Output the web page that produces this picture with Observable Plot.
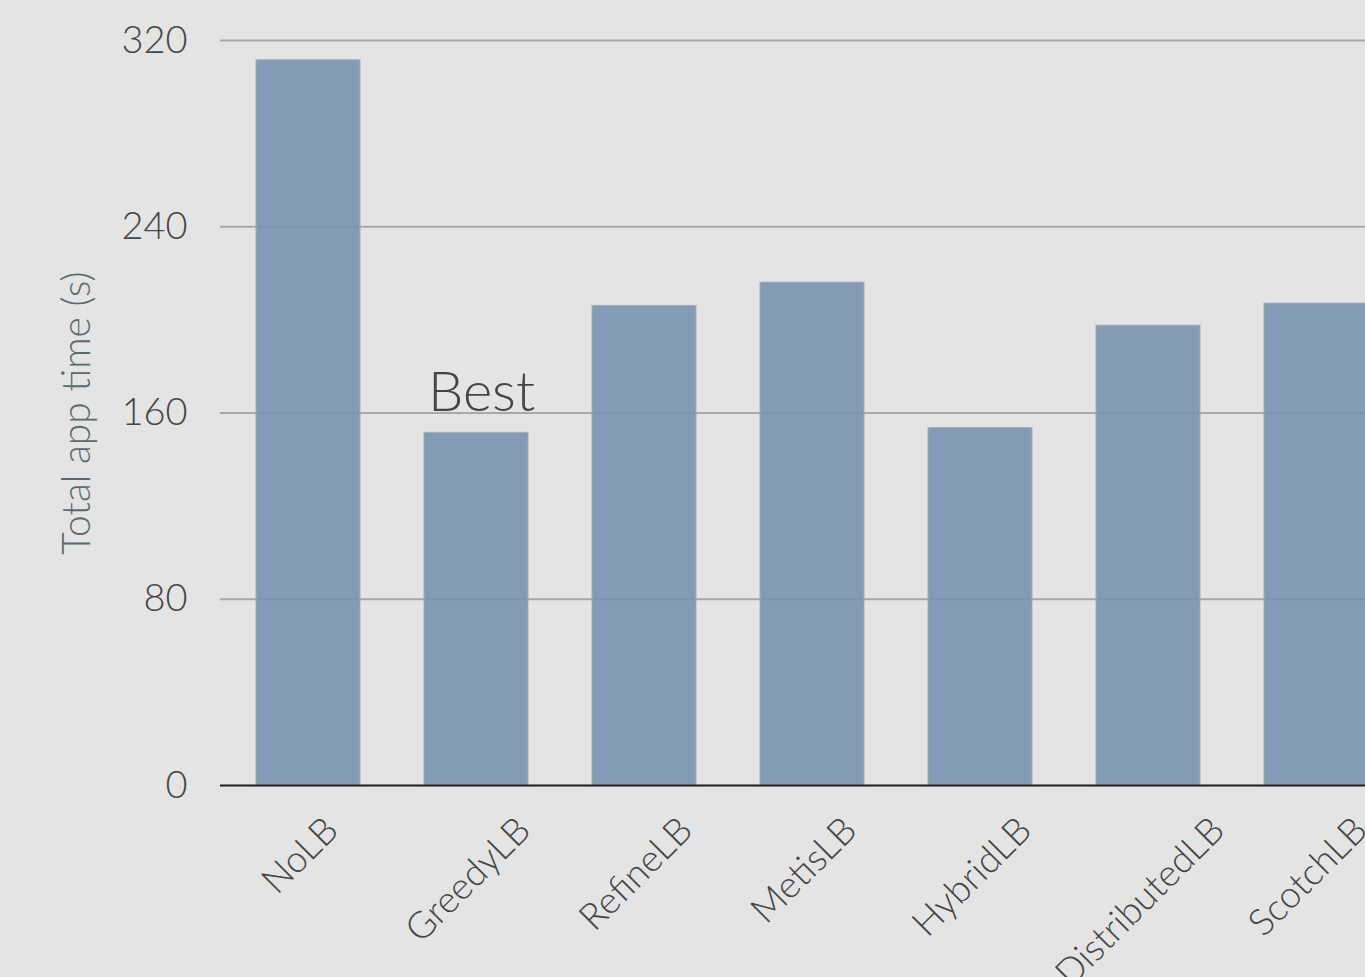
<!DOCTYPE html>
<html>
<head>
<meta charset="utf-8">
<script src="https://cdn.jsdelivr.net/npm/d3@7"></script>
<script src="https://cdn.jsdelivr.net/npm/@observablehq/plot@0.6"></script>
<style>
  html, body { margin: 0; padding: 0; background: #e4e4e4; overflow: hidden; }
  #wrap { width: 1365px; height: 977px; overflow: hidden; }
</style>
</head>
<body>
<div id="wrap"></div>
<script>
const categories = ["NoLB", "GreedyLB", "RefineLB", "MetisLB", "HybridLB", "DistributedLB", "ScotchLB"];
const appTime = [311.5, 151.5, 206, 216, 153.5, 197.5, 207];
const yTicks = [0, 80, 160, 240, 320];
const yLabel = "Total app time (s)";
const annotation = { category: "GreedyLB", text: "Best" };

const data = categories.map((c, i) => ({ lb: c, t: appTime[i] }));

const W = 1365, H = 977;
const mL = 220, mT = 40, mB = 192;
const pIn = 0.378, pOut = 0.2;
const step = 168.7;
const xEnd = mL + step * (categories.length - pIn + 2 * pOut);

const font = "Lato, 'Open Sans', 'DejaVu Sans', sans-serif";
const labelSize = 37;
const canvas = document.createElement("canvas");
const ctx = canvas.getContext("2d");
ctx.font = `300 ${labelSize}px Lato`;

const labelMarks = categories.map(c => {
  const w = ctx.measureText(c).width;
  return Plot.text([c], {
    x: d => d, frameAnchor: "bottom", text: d => d,
    rotate: -45, textAnchor: "end",
    dx: w * 0.354, dy: 47,
    fontSize: labelSize, fontWeight: 300, fill: "#454545"
  });
});

const chart = Plot.plot({
  width: W, height: H,
  marginLeft: mL, marginTop: mT, marginBottom: mB, marginRight: 0,
  style: { background: "#e4e4e4", fontFamily: font, fontWeight: 300, overflow: "visible" },
  x: { type: "band", domain: categories, range: [mL, xEnd], paddingInner: pIn, paddingOuter: pOut, align: 0.5, axis: null },
  y: { domain: [0, 320], axis: null },
  marks: [
    Plot.ruleY(yTicks.filter(d => d > 0), { stroke: "#a9a9a9", strokeWidth: 2 }),
    Plot.barY(data, { x: "lb", y: "t", fill: "#738fad", fillOpacity: 0.86, stroke: "#a8aeb5", strokeWidth: 1 }),
    Plot.ruleY([0], { stroke: "#1e1e1e", strokeWidth: 2 }),
    Plot.axisY({ ticks: yTicks, tickSize: 0, tickPadding: 33, fontSize: 38, fontWeight: 300, fill: "#454545", label: null }),
    Plot.text([yLabel], { frameAnchor: "left", textAnchor: "middle", text: d => d, rotate: -90, dx: -143, fontSize: 39, fontWeight: 300, fill: "#5a6b6b" }),
    Plot.text(data.filter(d => d.lb === annotation.category), {
      x: "lb", y: "t", text: () => annotation.text, dx: 5, dy: -40, fontSize: 56, fontWeight: 300, fill: "#444"
    }),
    ...labelMarks
  ]
});

document.getElementById("wrap").appendChild(chart);
</script>
</body>
</html>
